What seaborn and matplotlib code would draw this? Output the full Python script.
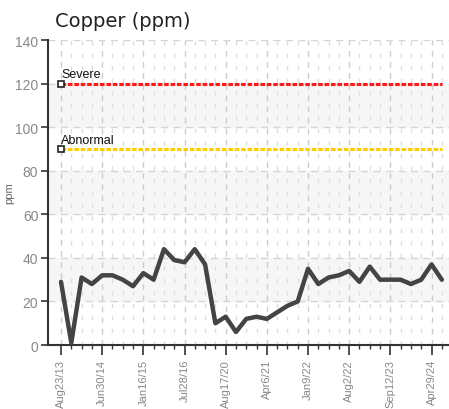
import matplotlib
matplotlib.use("Agg")
import matplotlib.pyplot as plt
import numpy as np
import pandas as pd
import seaborn as sns

# copper readings, one per sample
copper = [29, 1, 31, 28, 32, 32, 30, 27, 33, 30,
          44, 39, 38, 44, 37, 10, 13, 6, 12, 13,
          12, 15, 18, 20, 35, 28, 31, 32, 34, 29,
          36, 30, 30, 30, 28, 30, 37, 30]
# labelled samples (every 4th)
tick_pos = [0, 4, 8, 12, 16, 20, 24, 28, 32, 36]
tick_labels = ["Aug23/13", "Jun30/14", "Jan16/15", "Jul28/16", "Aug17/20",
               "Apr6/21", "Jan9/22", "Aug2/22", "Sep12/23", "Apr29/24"]
limits = {"Severe": 120, "Abnormal": 90}
limit_colors = {"Severe": "#ff1a1a", "Abnormal": "#ffcc00"}

df = pd.DataFrame({"sample": np.arange(len(copper)), "ppm": copper})

sns.set_style("white")
narrow = ["Liberation Sans", "DejaVu Sans"]

fig = plt.figure(figsize=(4.49, 4.10), dpi=100)
ax = fig.add_axes([0.107, 0.156, 0.893, 0.744])

# alternating background bands
for lo in (20, 60, 100):
    ax.axhspan(lo, lo + 20, color="#f6f6f6", zorder=0)

# grid
for i in range(len(copper)):
    major = i in tick_pos
    ax.axvline(i, color="#cccccc" if major else "#dddddd", lw=1,
               ls=(0, (4, 4)) if major else (0, (3, 6)), zorder=1)
for y in range(20, 141, 20):
    ax.axhline(y, color="#d5d5d5", lw=1, ls=(0, (5, 4)), zorder=1)

# limit lines
last = len(copper) - 1
for name, val in limits.items():
    ax.plot([0, last], [val, val], color=limit_colors[name], lw=2.2,
            ls=(0, (1.5, 0.6)), zorder=3)
    ax.plot([0], [val], marker="s", ms=4.5, mfc="white", mec="#222222",
            mew=1.2, zorder=4)
    ax.text(0, val + 1.5, name, fontsize=9, color="#111111", family=narrow,
            va="bottom", ha="left")

sns.lineplot(data=df, x="sample", y="ppm", color="#444444", lw=3.2,
             ax=ax, zorder=5)

ax.set_xlim(-1.26, 37.7)
ax.set_ylim(0, 140)
ax.set_yticks(range(0, 141, 20))
ax.set_xticks(tick_pos)
ax.set_xticks(range(len(copper)), minor=True)
ax.set_xticklabels(tick_labels, rotation=90, family=narrow, fontsize=8,
                   color="#888888")
for lab in ax.get_yticklabels():
    lab.set_family(narrow)
    lab.set_fontsize(10)
    lab.set_color("#888888")
ax.tick_params(axis="x", which="major", length=7, width=1.2, color="#333333",
               pad=3)
ax.tick_params(axis="x", which="minor", length=3, width=1, color="#333333")
ax.tick_params(axis="y", length=5, width=1.2, color="#333333", left=True,
               pad=2)
ax.tick_params(axis="x", bottom=True, which="both")

sns.despine(ax=ax)
for s in ("left", "bottom"):
    ax.spines[s].set_color("#333333")
    ax.spines[s].set_linewidth(1.5)

ax.set_xlabel("")
ax.set_ylabel("ppm", fontsize=8, color="#666666", family=narrow)
ax.yaxis.set_label_coords(-0.085, 0.5)
fig.text(0.123, 0.935, "Copper (ppm)", fontsize=14, color="#222222")

fig.savefig("out.png", dpi=100)
